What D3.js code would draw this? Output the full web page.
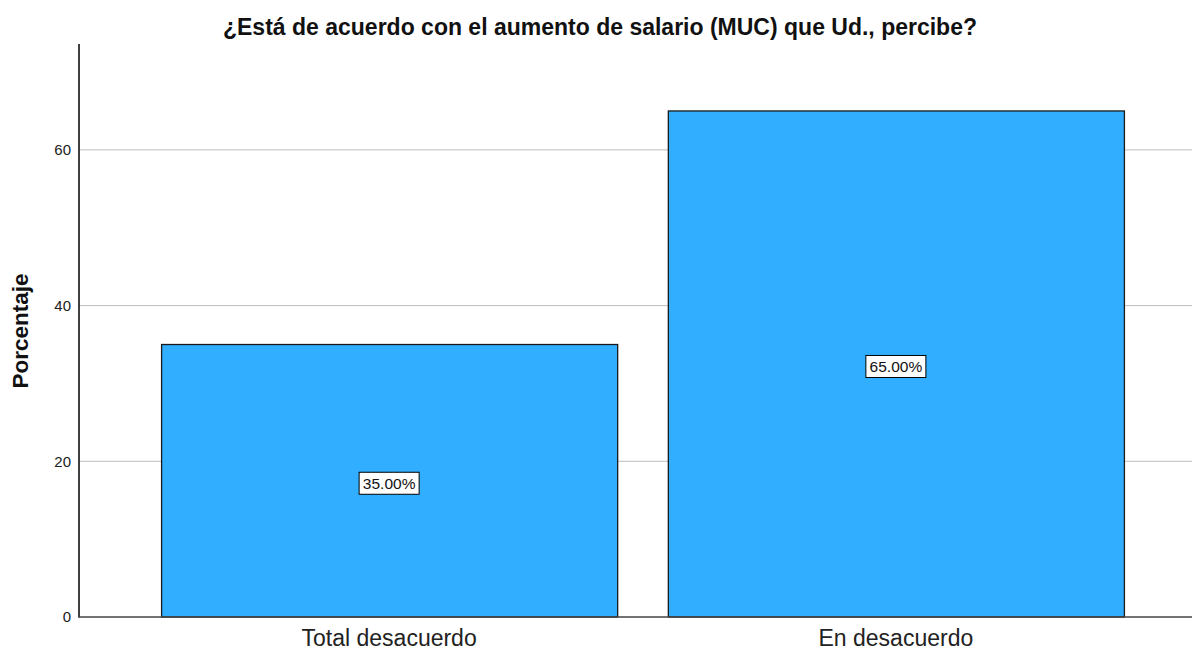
<!DOCTYPE html>
<html><head><meta charset="utf-8">
<script src="https://cdn.jsdelivr.net/npm/d3@7"></script>
<style>body{margin:0;background:#fff;} svg{display:block;font-family:"Liberation Sans",Arial,sans-serif;}</style>
</head><body>
<svg id="c" width="1192" height="651"></svg>
<script>
const categories = ["Total desacuerdo", "En desacuerdo"];
const values = [35, 65];
const labels = ["35.00%", "65.00%"];
const yTicks = [0, 20, 40, 60];
const title = "¿Está de acuerdo con el aumento de salario (MUC) que Ud., percibe?";
const yTitle = "Porcentaje";

const svg = d3.select("#c");
const y = d3.scaleLinear().domain([0, 73.6]).range([617, 44]);
const x = d3.scaleBand().domain(categories).range([79, 1206]).paddingInner(0.1).paddingOuter(0.162);

// gridlines
svg.append("g").selectAll("line").data(yTicks.filter(d => d > 0)).join("line")
  .attr("x1", 79).attr("x2", 1192).attr("y1", d => y(d)).attr("y2", d => y(d))
  .attr("stroke", "#bdbdbd").attr("stroke-width", 1);

// bars
svg.append("g").selectAll("rect").data(values).join("rect")
  .attr("x", (d, i) => x(categories[i]) + 0.5)
  .attr("y", d => y(d))
  .attr("width", x.bandwidth())
  .attr("height", d => y(0) - y(d))
  .attr("fill", "#31aeff").attr("stroke", "#1a1a1a").attr("stroke-width", 1.3);

// y axis
const yAxis = d3.axisLeft(y).tickValues(yTicks).tickSize(0).tickPadding(8);
const gy = svg.append("g").attr("transform", "translate(79,0)").call(yAxis);
gy.select(".domain").remove();
gy.selectAll("text").attr("font-size", 15).attr("fill", "#222").attr("font-family", "Liberation Sans, Arial, sans-serif");
svg.append("line").attr("x1", 79).attr("x2", 79).attr("y1", 44).attr("y2", 617.5).attr("stroke", "#000").attr("stroke-width", 1.5);

// x axis
const xAxis = d3.axisBottom(x).tickSize(0).tickPadding(13);
const gx = svg.append("g").attr("transform", "translate(0,617)").call(xAxis);
gx.select(".domain").remove();
gx.selectAll("text").attr("font-size", 23).attr("fill", "#222").attr("font-family", "Liberation Sans, Arial, sans-serif");
svg.append("line").attr("x1", 78.5).attr("x2", 1192).attr("y1", 617).attr("y2", 617).attr("stroke", "#444").attr("stroke-width", 1.5);

// value labels
const lg = svg.append("g").selectAll("g").data(values).join("g")
  .attr("transform", (d, i) => `translate(${x(categories[i]) + x.bandwidth() / 2},${y(d / 2) + 2.5})`);
lg.append("rect").attr("x", -30).attr("y", -11).attr("width", 60).attr("height", 22)
  .attr("fill", "#fff").attr("stroke", "#000").attr("stroke-width", 1);
lg.append("text").attr("text-anchor", "middle").attr("dy", "0.36em")
  .attr("font-size", 15.5).attr("fill", "#111").text((d, i) => labels[i]);

// title
svg.append("text").attr("x", 600).attr("y", 35).attr("text-anchor", "middle")
  .attr("font-size", 23).attr("font-weight", "bold").attr("fill", "#111").text(title);

// y title
svg.append("text").attr("transform", "translate(28,331) rotate(-90)").attr("text-anchor", "middle")
  .attr("font-size", 22.5).attr("font-weight", "bold").attr("fill", "#111").text(yTitle);
</script>
</body></html>
